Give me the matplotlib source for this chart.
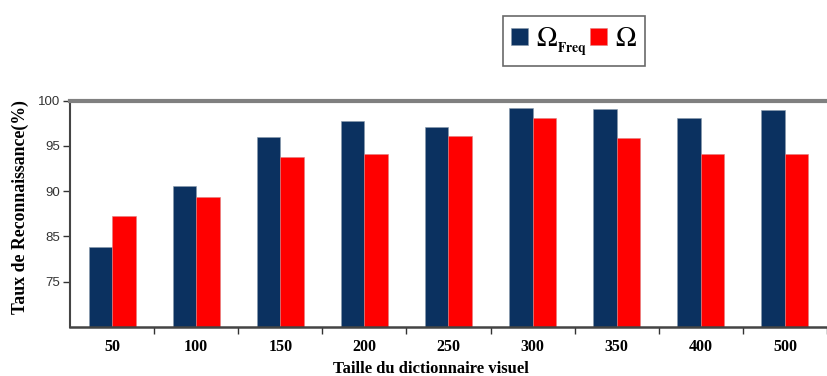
import matplotlib
matplotlib.use("Agg")
import matplotlib.pyplot as plt
import numpy as np

# dictionary sizes and recognition rates
tailles = ["50", "100", "150", "200", "250", "300", "350", "400", "500"]
omega_freq = [83.8, 90.6, 96.0, 97.7, 97.1, 99.2, 99.1, 98.1, 99.0]
omega = [87.3, 89.4, 93.8, 94.1, 96.1, 98.1, 95.9, 94.1, 94.1]

# the original axis labels its lowest tick "75" although it sits at 80
ytick_pos = [80, 85, 90, 95, 100]
ytick_lbl = ["75", "85", "90", "95", "100"]

plt.rcParams['mathtext.fontset'] = 'stix'
serif = 'Liberation Serif'

fig = plt.figure(figsize=(8.27, 3.76), dpi=100)
ax = fig.add_axes([70 / 827, 1 - 326.7 / 376, 757 / 827, 226 / 376])

x = np.arange(len(tailles))
w = 0.28
ax.bar(x - w / 2, omega_freq, w, color='#0b3160', edgecolor='#8899aa', linewidth=0.4,
       label=r'$\Omega_{{}_{\mathbf{Freq}}}$')
ax.bar(x + w / 2, omega, w, color='#ff0000', edgecolor='#e08080', linewidth=0.4,
       label=r'$\Omega$')

ax.set_ylim(75, 100)
ax.set_xlim(-0.5, 8.4)
ax.set_yticks(ytick_pos)
ax.set_yticklabels(ytick_lbl, fontfamily='Liberation Sans', fontsize=9.5, color='#333333')
ax.tick_params(axis='y', length=5, width=1, color='#333333', pad=2)

# category labels centred under groups, ticks between groups
ax.set_xticks(x + 0.5, minor=False)
ax.set_xticklabels([])
ax.tick_params(axis='x', length=5, width=1, color='#333333')
for xi, lbl in zip(x, tailles):
    ax.text(xi, -0.09, lbl, transform=ax.get_xaxis_transform(), ha='center', va='center',
            fontfamily=serif, fontweight='bold', fontsize=11.5)

ax.spines['right'].set_visible(False)
ax.spines['top'].set_color('#808080')
ax.spines['top'].set_linewidth(3)
ax.spines['bottom'].set_color('#444444')
ax.spines['bottom'].set_linewidth(1.8)
ax.spines['left'].set_color('#444444')
ax.spines['left'].set_linewidth(1.5)

fig.text(431 / 827, 1 - 369 / 376, 'Taille du dictionnaire visuel', ha='center', va='center',
         fontfamily=serif, fontweight='bold', fontsize=12)
fig.text(20 / 827, 1 - 207 / 376, 'Taux de Reconnaissance(%)', ha='center', va='center',
         rotation=90, fontfamily=serif, fontweight='bold', fontsize=12.8)

leg = fig.legend(loc='center', bbox_to_anchor=(574 / 827, 1 - 41 / 376), ncol=2, fontsize=20,
                 frameon=True, fancybox=False, handlelength=0.6, handleheight=0.6,
                 handletextpad=0.3, columnspacing=0.1, borderpad=0.3, borderaxespad=0)
leg.get_frame().set_edgecolor('#444444')
leg.get_frame().set_linewidth(1.2)

fig.savefig('out.png', dpi=100)
